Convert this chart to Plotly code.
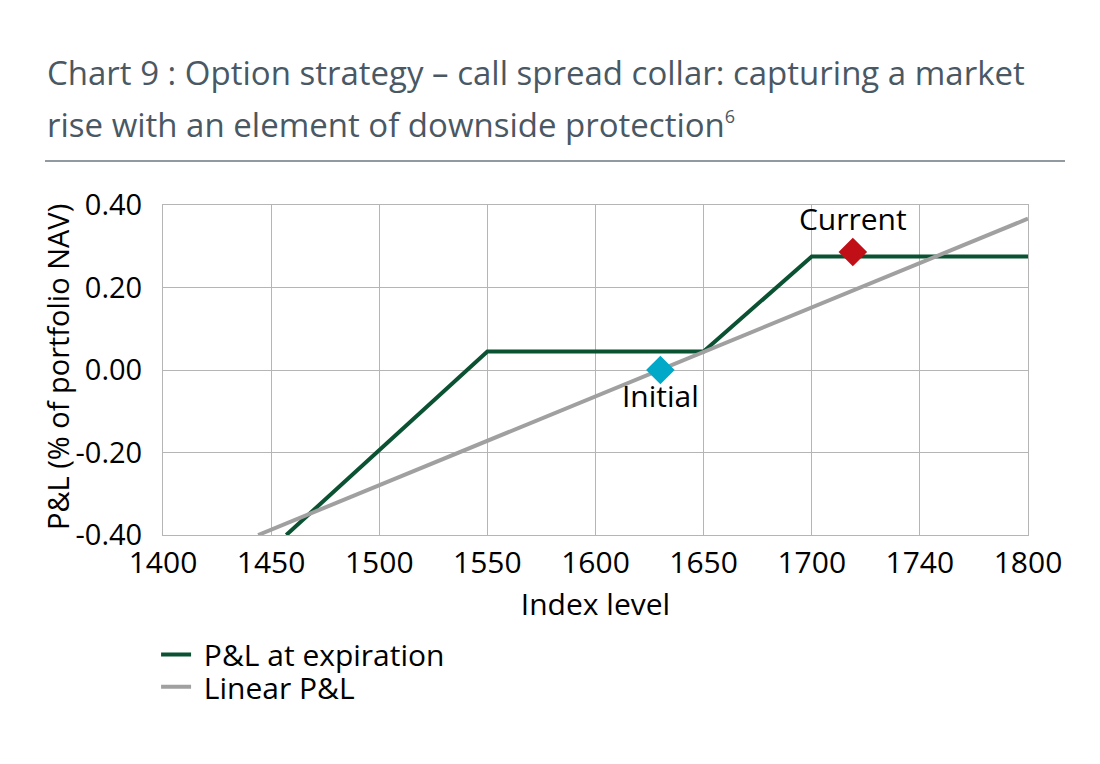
import plotly.graph_objects as go

# Data
expiry_x = [1457, 1550, 1650, 1700, 1800]
expiry_y = [-0.40, 0.045, 0.045, 0.275, 0.275]
linear_x = [1444, 1800]
linear_y = [-0.40, 0.367]
initial_pt = (1630, 0.0)
current_pt = (1719, 0.286)
x_tickvals = [1400, 1450, 1500, 1550, 1600, 1650, 1700, 1750, 1800]
x_ticktext = ["1400", "1450", "1500", "1550", "1600", "1650", "1700", "1740", "1800"]
y_tickvals = [-0.40, -0.20, 0.00, 0.20, 0.40]
y_ticktext = ["-0.40", "-0.20", "0.00", "0.20", "0.40"]

FONT = "Open Sans"
FS = 30
fig = go.Figure()
fig.add_trace(go.Scatter(x=expiry_x, y=expiry_y, mode="lines", name="\u00a0P&L at expiration",
                         line=dict(color="#0b5232", width=4), legend="legend"))
fig.add_trace(go.Scatter(x=linear_x, y=linear_y, mode="lines", name="\u00a0Linear P&L",
                         line=dict(color="#a0a0a0", width=4), legend="legend2"))
fig.add_trace(go.Scatter(x=[initial_pt[0]], y=[initial_pt[1]], mode="markers+text",
                         text=["Initial"], textposition="bottom center",
                         textfont=dict(size=FS, color="black", family=FONT),
                         marker=dict(symbol="diamond", size=22, color="#00a9c8"),
                         showlegend=False))
fig.add_trace(go.Scatter(x=[current_pt[0]], y=[current_pt[1]], mode="markers+text",
                         text=["Current"], textposition="top center",
                         textfont=dict(size=FS, color="black", family=FONT),
                         marker=dict(symbol="diamond", size=22, color="#c00f16"),
                         showlegend=False))

leg_common = dict(xanchor="left", yanchor="middle", font=dict(size=FS, family=FONT, color="black"),
                  itemwidth=30, bgcolor="rgba(0,0,0,0)", borderwidth=0)

fig.update_layout(
    width=1092, height=756,
    margin=dict(l=155, r=72, t=197, b=229),
    paper_bgcolor="white", plot_bgcolor="white",
    font=dict(family=FONT, color="black", size=FS),
    showlegend=True,
    legend=dict(x=-0.008, y=-0.362, **leg_common),
    legend2=dict(x=-0.008, y=-0.46, **leg_common),
    xaxis=dict(range=[1400, 1800], tickvals=x_tickvals, ticktext=x_ticktext,
               showgrid=True, gridcolor="#b5b5b5", gridwidth=1,
               showline=True, linecolor="#b5b5b5", mirror=True, zeroline=False,
               ticks="", tickfont=dict(size=FS), ticklabelstandoff=1,
               title=dict(text="Index level", font=dict(size=FS), standoff=12)),
    yaxis=dict(range=[-0.40, 0.40], tickvals=y_tickvals, ticktext=y_ticktext,
               showgrid=True, gridcolor="#b5b5b5", gridwidth=1,
               showline=True, linecolor="#b5b5b5", mirror=True, zeroline=False,
               ticks="", tickfont=dict(size=29), ticklabelstandoff=14),
    annotations=[
        dict(text="P&L (% of portfolio NAV)", textangle=-90,
             xref="paper", yref="paper", x=-0.1225, y=0.509, xanchor="center", yanchor="middle",
             showarrow=False, font=dict(size=29, color="black", family=FONT)),
        dict(text="Chart 9 : Option strategy – call spread collar: capturing a market",
             xref="paper", yref="paper", x=-0.1364, y=1.403, xanchor="left", yanchor="middle",
             align="left", showarrow=False,
             font=dict(size=33, color="#4a5864", family=FONT)),
        dict(text="rise with an element of downside protection<sup><span style='font-size:18px'>6</span></sup>",
             xref="paper", yref="paper", x=-0.1364, y=1.245, xanchor="left", yanchor="middle",
             align="left", showarrow=False,
             font=dict(size=33, color="#4a5864", family=FONT)),
    ],
    shapes=[dict(type="line", xref="paper", yref="paper", x0=-0.1364, x1=1.0428,
                 y0=1.1333, y1=1.1333, line=dict(color="#6b7880", width=1.5))],
)

fig.write_html("out.html")
